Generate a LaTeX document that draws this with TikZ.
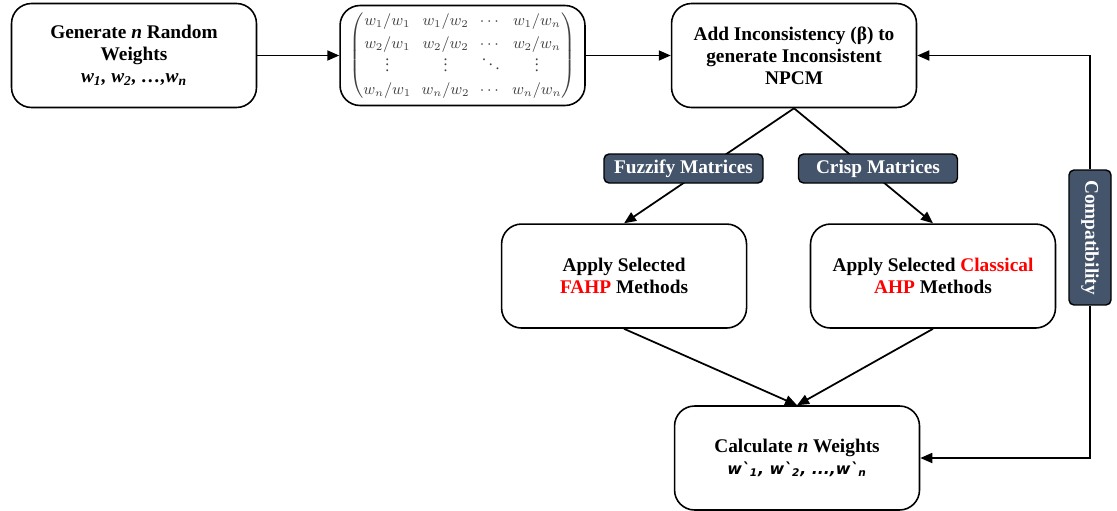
\documentclass[tikz,border=0pt]{standalone}
\usepackage{amsmath}
\usepackage{fontspec}
\setmainfont{Liberation Serif}
\newfontfamily\wfont{DejaVu Sans}
\usetikzlibrary{arrows.meta, positioning}
\definecolor{slate}{HTML}{44546A}
\newcommand\colvdots{\vbox{\baselineskip3.2pt\lineskiplimit0pt\kern0.5pt\hbox{.}\hbox{.}\hbox{.}}}
\newcommand\diagdots{\mathinner{\mkern1mu\raise6pt\hbox{.}\mkern3mu\raise3.5pt\hbox{.}\mkern3mu\raise1pt\hbox{.}\mkern1mu}}

\begin{document}
\begin{tikzpicture}[x=0.02cm, y=-0.02cm,
	stepbox/.style={rectangle, draw, line width=0.9pt, rounded corners=0.4cm, minimum height=2.08cm, minimum width=4.9cm, align=center, font=\bfseries\fontsize{11}{12.5}\selectfont},
	tagbox/.style={rectangle, draw, line width=0.8pt, rounded corners=0.1cm, fill=slate, text=white, minimum height=0.58cm, minimum width=3.18cm, inner sep=2pt, font=\bfseries\fontsize{11}{12}\selectfont},
	arrow/.style={-{Triangle[length=2.4mm, width=2mm]}, line width=1pt},
	every node/.style={align=center}
	]
	\useasboundingbox (0,0) rectangle (1117,511);
	\node[stepbox] (gen) at (134,55.5) {Generate \textit{n} Random\\ Weights\\ \textit{w\textsubscript{1}, w\textsubscript{2}, \ldots,w\textsubscript{n}}};
	\node[stepbox, right=1.64cm of gen, minimum height=2cm, inner sep=0pt, text=black!75, font=\fontsize{9}{13}\selectfont] (npcm) {\setlength\arraycolsep{3pt}$\begin{pmatrix}
		w_1/w_1 & w_1/w_2 & \cdots & w_1/w_n\\
		w_2/w_1 & w_2/w_2 & \cdots & w_2/w_n\\
		\colvdots & \colvdots & \diagdots & \colvdots\\
		w_n/w_1 & w_n/w_2 & \cdots & w_n/w_n
	\end{pmatrix}$};
	\node[stepbox, right=1.7cm of npcm] (add) {Add Inconsistency (β) to\\ generate Inconsistent\\ NPCM};
	\node[stepbox, below=2.3cm of add, xshift=-3.4cm] (fahp) {Apply Selected\\ \textcolor{red}{FAHP} Methods};
	\node[stepbox, below=2.3cm of add, xshift=2.78cm] (ahp) {Apply Selected \textcolor{red}{Classical}\\ \textcolor{red}{AHP} Methods};
	\node[stepbox, below=5.94cm of add, xshift=0.06cm] (calc) {Calculate \textit{n} Weights\\ {\wfont\bfseries\itshape\fontsize{9}{11}\selectfont wˋ\textsubscript{1}, wˋ\textsubscript{2}, ...,wˋ\textsubscript{n}}};
	
	\draw[arrow] (gen) -- (npcm);
	\draw[arrow] (npcm) -- (add);
	\draw[arrow] (add.south) -- (fahp.north);
	\draw[arrow] (add.south) -- (ahp.north);
	\draw[arrow] (fahp.south) -- (calc.north);
	\draw[arrow] (ahp.south) -- (calc.north);
	
	% labels on the branches
	\node[tagbox] (fuzzy) at (683.5,168.5) {Fuzzify Matrices};
	\node[tagbox] (crisp) at (878,168.5) {Crisp Matrices};
	
	% feedback loop
	\node[tagbox, rotate=-90, minimum width=2.7cm, minimum height=0.84cm] (compat) at (1090,237.5) {Compatibility};
	\draw[arrow] (compat.west) |- (add.east);
	\draw[arrow] (compat.east) |- (calc.east);
\end{tikzpicture}
\end{document}
